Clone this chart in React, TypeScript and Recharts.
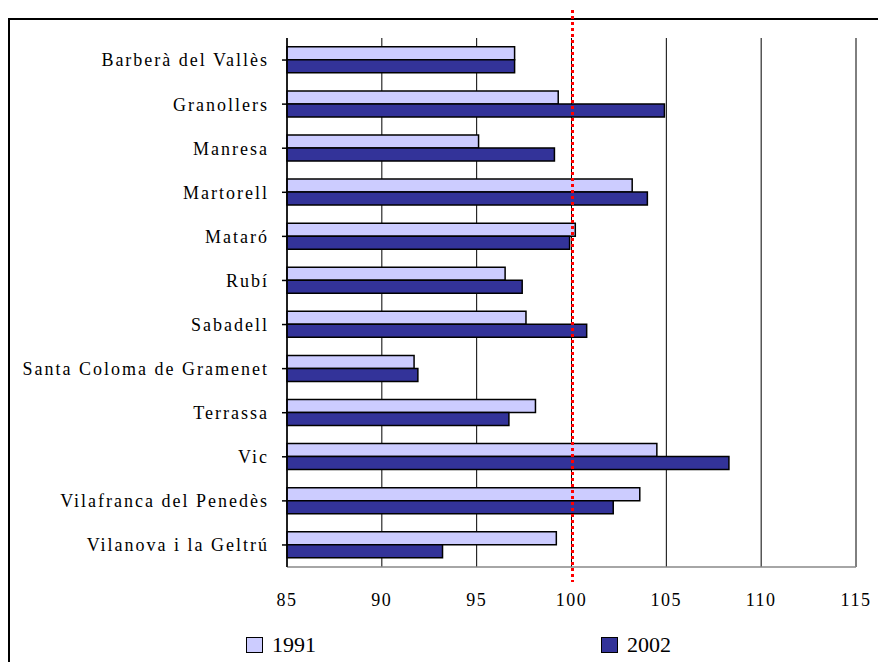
import React from 'react';
import { BarChart, Bar, XAxis, YAxis, CartesianGrid, ReferenceLine, Legend } from 'recharts';

const towns = [
    'Barberà del Vallès',
    'Granollers',
    'Manresa',
    'Martorell',
    'Mataró ',
    'Rubí',
    'Sabadell',
    'Santa Coloma de Gramenet',
    'Terrassa',
    'Vic',
    'Vilafranca del Penedès',
    'Vilanova i la Geltrú',
];

const values1991 = [97.0, 99.3, 95.1, 103.2, 100.2, 96.5, 97.6, 91.7, 98.1, 104.5, 103.6, 99.2];
const values2002 = [97.0, 104.9, 99.1, 104.0, 99.9, 97.4, 100.8, 91.9, 96.7, 108.3, 102.2, 93.2];

const xTicks = [85, 90, 95, 100, 105, 110, 115];
const referenceValue = 100;

const data = towns.map((name, i) => ({ name, y1991: values1991[i], y2002: values2002[i] }));

const serif = '"Liberation Serif", "Times New Roman", serif';

// red dotted line runs a bit past the plot area, like the original
function DottedLine(props: any) {
    const top = Math.min(props.y1, props.y2);
    const bottom = Math.max(props.y1, props.y2);
    return (
        <line
            x1={props.x1 + 1}
            y1={top - 28}
            x2={props.x2 + 1}
            y2={bottom + 15}
            stroke="#ff0000"
            strokeWidth={3}
            strokeDasharray="3 3"
        />
    );
}

function LegendContent(props: any) {
    const items = props.payload || [];
    return (
        <div style={{ display: 'flex', alignItems: 'center', fontFamily: serif, fontSize: 22, color: '#000' }}>
            {items.map((entry: any, i: number) => (
                <div key={entry.value} style={{ display: 'flex', alignItems: 'center', marginLeft: i === 0 ? 0 : 285 }}>
                    <span style={{
                        display: 'inline-block',
                        width: 15,
                        height: 14,
                        background: entry.color,
                        border: '1px solid #000',
                        marginRight: 9,
                    }} />
                    <span>{entry.value}</span>
                </div>
            ))}
        </div>
    );
}

export default function App() {
    return (
        <div style={{ position: 'absolute', left: 0, top: 0, width: 878, height: 662, overflow: 'hidden', background: '#fff' }}>
            {/* outer chart frame, cut off at right and bottom */}
            <div style={{ position: 'absolute', left: 8, top: 18, width: 1000, height: 1000, border: '2px solid #000' }} />

            <div style={{ position: 'absolute', left: 0, top: 0 }}>
                <BarChart
                    width={878}
                    height={662}
                    data={data}
                    layout="vertical"
                    margin={{ top: 38, right: 22, left: 0, bottom: 0 }}
                    barCategoryGap="20%"
                    barGap={0}
                >
                    <CartesianGrid horizontal={false} stroke="#000" strokeWidth={1} />
                    <XAxis
                        xAxisId="top"
                        orientation="top"
                        type="number"
                        domain={[85, 115]}
                        height={0}
                        tick={false}
                        tickLine={false}
                        axisLine={{ stroke: '#000', strokeWidth: 1.5 }}
                    />
                    <XAxis
                        type="number"
                        domain={[85, 115]}
                        ticks={xTicks}
                        height={95}
                        tickLine={false}
                        tickSize={0}
                        tickMargin={26}
                        axisLine={{ stroke: '#888', strokeWidth: 1.5 }}
                        tick={{ fill: '#000', fontFamily: serif, fontSize: 18, letterSpacing: 1.5 }}
                    />
                    <YAxis
                        type="category"
                        dataKey="name"
                        width={287}
                        interval={0}
                        tickSize={5}
                        tickMargin={13}
                        tickLine={{ stroke: '#000', strokeWidth: 1.5 }}
                        axisLine={{ stroke: '#000', strokeWidth: 1.5 }}
                        tick={{ fill: '#000', fontFamily: serif, fontSize: 18, letterSpacing: 2 }}
                    />
                    <Bar dataKey="y1991" name="1991" fill="#ccccff" stroke="#000" strokeWidth={1.5} isAnimationActive={false} />
                    <Bar dataKey="y2002" name="2002" fill="#333399" stroke="#000" strokeWidth={1.5} isAnimationActive={false} />
                    <ReferenceLine x={referenceValue} shape={DottedLine} />
                    <Legend
                        layout="horizontal"
                        verticalAlign="middle"
                        align="center"
                        content={LegendContent}
                        wrapperStyle={{ left: 246, top: 632, width: 'auto', height: 'auto' }}
                    />
                </BarChart>
            </div>
        </div>
    );
}
